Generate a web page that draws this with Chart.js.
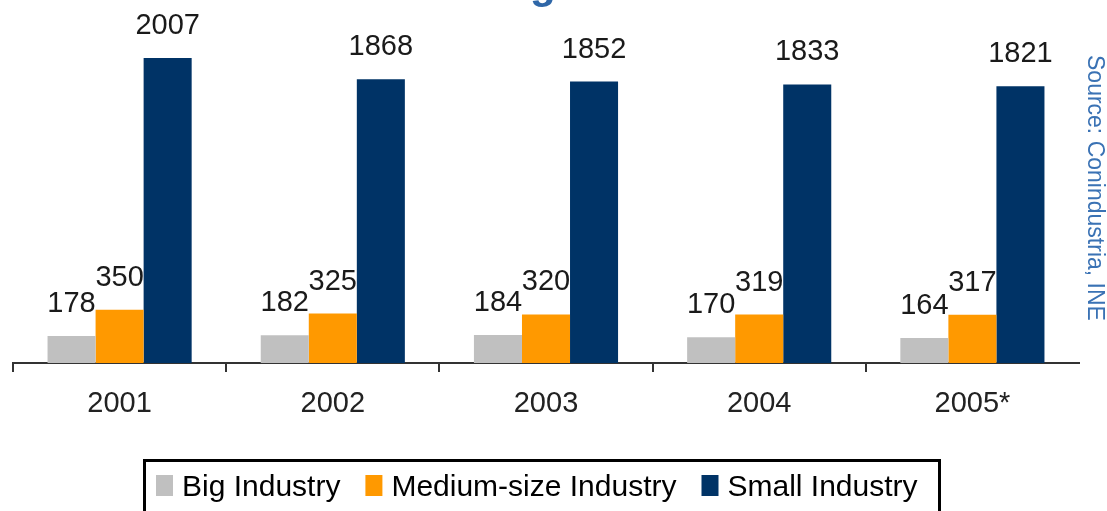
<!DOCTYPE html>
<html>
<head>
<meta charset="utf-8">
<script src="https://cdn.jsdelivr.net/npm/chart.js@4/dist/chart.umd.min.js"></script>
<style>
  html, body { margin: 0; padding: 0; background: #ffffff; }
  #wrap { width: 1107px; height: 511px; position: relative; }
</style>
</head>
<body>
<div id="wrap"><canvas id="c" width="1107" height="511"></canvas></div>
<script>
const categories = ['2001', '2002', '2003', '2004', '2005*'];
const bigIndustry = [178, 182, 184, 170, 164];
const mediumIndustry = [350, 325, 320, 319, 317];
const smallIndustry = [2007, 1868, 1852, 1833, 1821];
const seriesNames = ['Big Industry', 'Medium-size Industry', 'Small Industry'];
const titleText = 'Number of big business establishments';
const sourceText = 'Source: Conindustria, INE';

const FONT = 'Arial, "Liberation Sans", Helvetica, sans-serif';

const extrasPlugin = {
  id: 'extras',
  afterDatasetsDraw(chart) {
    const ctx = chart.ctx;
    ctx.save();
    ctx.fillStyle = '#1a1a1a';
    ctx.font = '29px ' + FONT;
    ctx.textAlign = 'center';
    ctx.textBaseline = 'alphabetic';
    chart.data.datasets.forEach((ds, di) => {
      const meta = chart.getDatasetMeta(di);
      meta.data.forEach((bar, i) => {
        ctx.fillText(String(ds.data[i]), bar.x, bar.y - 24);
      });
    });
    ctx.restore();
  },
  afterDraw(chart) {
    const ctx = chart.ctx;
    // cropped title (only its lowest pixels are inside the picture)
    ctx.save();
    ctx.fillStyle = '#2f67a8';
    ctx.font = 'bold 42px ' + FONT;
    ctx.textAlign = 'left';
    ctx.textBaseline = 'alphabetic';
    ctx.fillText(titleText, 271, -2);
    ctx.restore();

    // rotated source
    ctx.save();
    ctx.fillStyle = '#3a72b4';
    ctx.font = '23px ' + FONT;
    ctx.translate(1088, 55);
    ctx.rotate(Math.PI / 2);
    ctx.textAlign = 'left';
    ctx.textBaseline = 'alphabetic';
    ctx.fillText(sourceText, 0, 0);
    ctx.restore();

    // legend
    ctx.save();
    ctx.strokeStyle = '#000000';
    ctx.lineWidth = 3;
    ctx.strokeRect(144.5, 460.5, 795, 80);
    ctx.font = '30px ' + FONT;
    ctx.textBaseline = 'alphabetic';
    ctx.textAlign = 'left';
    let x = 156;
    chart.data.datasets.forEach((ds, di) => {
      ctx.fillStyle = ds.backgroundColor;
      ctx.fillRect(x, 475, 17, 21);
      ctx.fillStyle = '#000000';
      ctx.fillText(ds.label, x + 26, 496);
      x += 26 + ctx.measureText(ds.label).width + 25;
    });
    ctx.restore();
  }
};

new Chart(document.getElementById('c'), {
  type: 'bar',
  data: {
    labels: categories,
    datasets: [
      { label: seriesNames[0], data: bigIndustry, backgroundColor: '#c0c0c0' },
      { label: seriesNames[1], data: mediumIndustry, backgroundColor: '#ff9900' },
      { label: seriesNames[2], data: smallIndustry, backgroundColor: '#003366' }
    ]
  },
  options: {
    responsive: false,
    devicePixelRatio: 1,
    animation: false,
    layout: { padding: { left: 13, right: 28, top: 0, bottom: 0 } },
    datasets: { bar: { barPercentage: 1.0, categoryPercentage: 0.676, borderWidth: 0 } },
    plugins: {
      legend: { display: false },
      title: { display: false },
      tooltip: { enabled: false }
    },
    scales: {
      x: {
        offset: true,
        grid: {
          offset: true,
          drawOnChartArea: false,
          drawTicks: true,
          tickLength: 9,
          lineWidth: 2,
          color: (c) => (c.index === undefined ? 'rgba(0,0,0,0)' : '#333333')
        },
        border: { display: true, color: '#333333', width: 2 },
        ticks: {
          color: '#222222',
          font: { family: FONT, size: 29 },
          padding: 15,
          maxRotation: 0,
          autoSkip: false
        },
        afterFit(scale) { scale.height = 148; }
      },
      y: {
        display: false,
        min: 0,
        max: 2389
      }
    }
  },
  plugins: [extrasPlugin]
});
</script>
</body>
</html>
